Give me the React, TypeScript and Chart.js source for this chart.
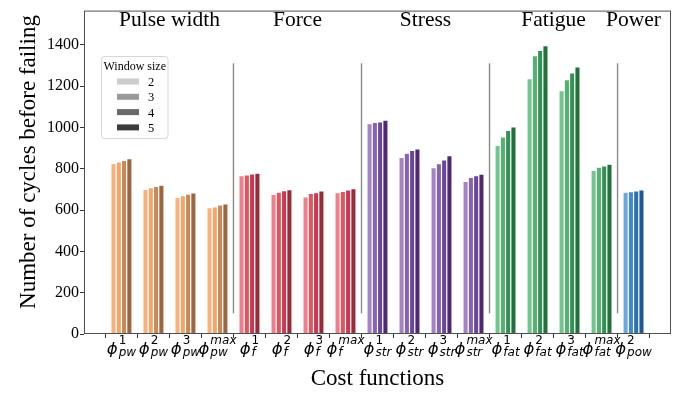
import React, { useEffect, useRef } from "react";
import { Chart, registerables } from "chart.js";

Chart.register(...registerables);

// Cost function groups and per-function labels (ϕ^sup_sub)
const groupNames = ["Pulse width", "Force", "Stress", "Fatigue", "Power"];
const groupOf = [0, 0, 0, 0, 1, 1, 1, 1, 2, 2, 2, 2, 3, 3, 3, 3, 4];
const costSup = ["1", "2", "3", "max", "1", "2", "3", "max", "1", "2", "3", "max", "1", "2", "3", "max", "2"];
const costSub = ["pw", "pw", "pw", "pw", "f", "f", "f", "f", "str", "str", "str", "str", "fat", "fat", "fat", "fat", "pow"];

// Number of cycles before failing, one array per window size
const windowSizes = ["2", "3", "4", "5"];
const window2 = [825, 700, 661, 611, 766, 676, 664, 684, 1018, 854, 805, 739, 913, 1236, 1178, 792, 686];
const window3 = [833, 708, 669, 615, 770, 686, 680, 690, 1024, 875, 824, 758, 954, 1347, 1231, 807, 689];
const window4 = [840, 714, 677, 625, 775, 694, 684, 697, 1027, 888, 842, 766, 985, 1373, 1264, 813, 692];
const window5 = [849, 720, 683, 630, 778, 699, 692, 703, 1035, 896, 863, 774, 1002, 1395, 1293, 822, 697];

const yTicks = [0, 200, 400, 600, 800, 1000, 1200, 1400];

// Shades per group, light (window 2) to dark (window 5)
const groupShades = [
  ["#f8b27d", "#f2a66c", "#c9875a", "#9b673e"],
  ["#f17f8a", "#e9525f", "#c83a4b", "#9a2a3a"],
  ["#a385c4", "#8663b1", "#6b4597", "#4e2b70"],
  ["#72c58e", "#51b36e", "#339154", "#22703e"],
  ["#6ba6dc", "#3f8aca", "#2b70b2", "#1f5993"],
];
const legendGreys = ["#cccccc", "#999999", "#6a6a6a", "#3a3c3f"];

const serif = "'Liberation Serif', 'Times New Roman', serif";
const mathFont = "'DejaVu Sans'";

const seriesList = [window2, window3, window4, window5];

const decorations = {
  id: "decorations",
  beforeDatasetsDraw(chart: any) {
    const { ctx, scales } = chart;
    const x = scales.x;
    const y = scales.y;
    ctx.save();
    ctx.strokeStyle = "#8a8a8a";
    ctx.lineWidth = 1.4;
    for (let g = 0; g < groupOf.length - 1; g++) {
      if (groupOf[g] !== groupOf[g + 1]) {
        const px = x.getPixelForValue(g + 0.5);
        ctx.beginPath();
        ctx.moveTo(px, y.getPixelForValue(100));
        ctx.lineTo(px, y.getPixelForValue(1310));
        ctx.stroke();
      }
    }
    ctx.restore();
  },
  afterDraw(chart: any) {
    const { ctx, scales, chartArea } = chart;
    const x = scales.x;
    ctx.save();

    // axes frame
    ctx.strokeStyle = "#505050";
    ctx.lineWidth = 1;
    ctx.strokeRect(chartArea.left + 0.5, chartArea.top + 0.5, chartArea.right - chartArea.left - 1, chartArea.bottom - chartArea.top - 1);

    // group titles
    ctx.fillStyle = "#000";
    ctx.font = `21.5px ${serif}`;
    ctx.textAlign = "center";
    ctx.textBaseline = "alphabetic";
    groupNames.forEach((name, gi) => {
      const idx = groupOf.map((g, i) => (g === gi ? i : -1)).filter((i) => i >= 0);
      const mid = (idx[0] + idx[idx.length - 1]) / 2;
      ctx.fillText(name, x.getPixelForValue(mid), 26);
    });

    // tick labels ϕ^sup_sub
    const S = 16.5;
    const s2 = 12;
    ctx.textAlign = "left";
    const base = chartArea.bottom + 20;
    for (let i = 0; i < costSup.length; i++) {
      ctx.font = `italic ${S}px ${mathFont}`;
      const wPhi = ctx.measureText("ϕ").width;
      const supFont = /^\d+$/.test(costSup[i]) ? `${s2}px ${mathFont}` : `italic ${s2}px ${mathFont}`;
      ctx.font = supFont;
      const wSup = ctx.measureText(costSup[i]).width;
      ctx.font = `italic ${s2}px ${mathFont}`;
      const wSub = ctx.measureText(costSub[i]).width;
      const total = wPhi + 1 + Math.max(wSup, wSub);
      const x0 = x.getPixelForValue(i) - total / 2;
      ctx.font = `italic ${S}px ${mathFont}`;
      ctx.fillText("ϕ", x0, base);
      ctx.font = supFont;
      ctx.fillText(costSup[i], x0 + wPhi + 1, base - 10.5);
      ctx.font = `italic ${s2}px ${mathFont}`;
      ctx.fillText(costSub[i], x0 + wPhi + 1, base + 2);
    }

    // axis titles
    ctx.textAlign = "center";
    ctx.font = `23px ${serif}`;
    ctx.fillText("Cost functions", (chartArea.left + chartArea.right) / 2, 385);
    ctx.save();
    ctx.translate(35, 162);
    ctx.rotate(-Math.PI / 2);
    ctx.fillText("Number of cycles before failing", 0, 0);
    ctx.restore();

    // legend
    const lx = 101.5, ly = 56.5, lw = 66.5, lh = 82;
    ctx.fillStyle = "rgba(255,255,255,0.9)";
    ctx.strokeStyle = "#d6d6d6";
    ctx.lineWidth = 1;
    ctx.beginPath();
    ctx.roundRect(lx, ly, lw, lh, 3);
    ctx.fill();
    ctx.stroke();
    ctx.fillStyle = "#000";
    ctx.font = `12px ${serif}`;
    ctx.fillText("Window size", lx + lw / 2, 70);
    ctx.textAlign = "left";
    windowSizes.forEach((w, k) => {
      const cy = 81.5 + k * 15.3;
      ctx.fillStyle = legendGreys[k];
      ctx.fillRect(117, cy - 3, 22, 6);
      ctx.fillStyle = "#000";
      ctx.font = `12.5px ${serif}`;
      ctx.fillText(w, 148, cy + 4.5);
    });

    ctx.restore();
  },
};

export default function App() {
  const ref = useRef<HTMLCanvasElement | null>(null);

  useEffect(() => {
    if (!ref.current) return;
    const datasets = seriesList.map((vals, k) => ({
      label: windowSizes[k],
      data: vals.map((v, i) => ({ x: i, y: v })),
      backgroundColor: vals.map((_, i) => groupShades[groupOf[i]][k]),
      borderColor: "rgba(255,255,255,0.85)",
      borderWidth: 0.6,
      categoryPercentage: 0.66,
      barPercentage: 1.0,
    }));

    const chart = new Chart(ref.current, {
      type: "bar",
      data: { datasets },
      options: {
        animation: false,
        responsive: false,
        layout: { padding: { top: 1, right: 17, left: 0, bottom: 0 } },
        plugins: { legend: { display: false }, tooltip: { enabled: false } },
        scales: {
          x: {
            type: "linear",
            min: -1.17,
            max: costSup.length - 1 + 1.17,
            offset: false,
            border: { display: false },
            grid: { display: true, drawOnChartArea: false, drawTicks: true, tickLength: 4, color: "#333" },
            ticks: { display: false },
            afterBuildTicks: (s: any) => {
              s.ticks = costSup.map((_, i) => ({ value: i }));
            },
            afterFit: (s: any) => {
              s.height = 64;
            },
          },
          y: {
            min: 0,
            max: 1565,
            border: { display: false },
            grid: { display: true, drawOnChartArea: false, drawTicks: true, tickLength: 4, color: "#333" },
            ticks: {
              font: { family: serif, size: 16 },
              color: "#000",
              padding: 1,
              callback: (v: any) => String(v),
            },
            afterBuildTicks: (s: any) => {
              s.ticks = yTicks.map((v) => ({ value: v }));
            },
            afterFit: (s: any) => {
              s.width = 84;
            },
          },
        },
      },
      plugins: [decorations],
    } as any);
    return () => chart.destroy();
  }, []);

  return (
    <div style={{ position: "absolute", left: 0, top: 0, width: 688, height: 398, background: "#fff" }}>
      <canvas ref={ref} width={688} height={398} />
    </div>
  );
}
